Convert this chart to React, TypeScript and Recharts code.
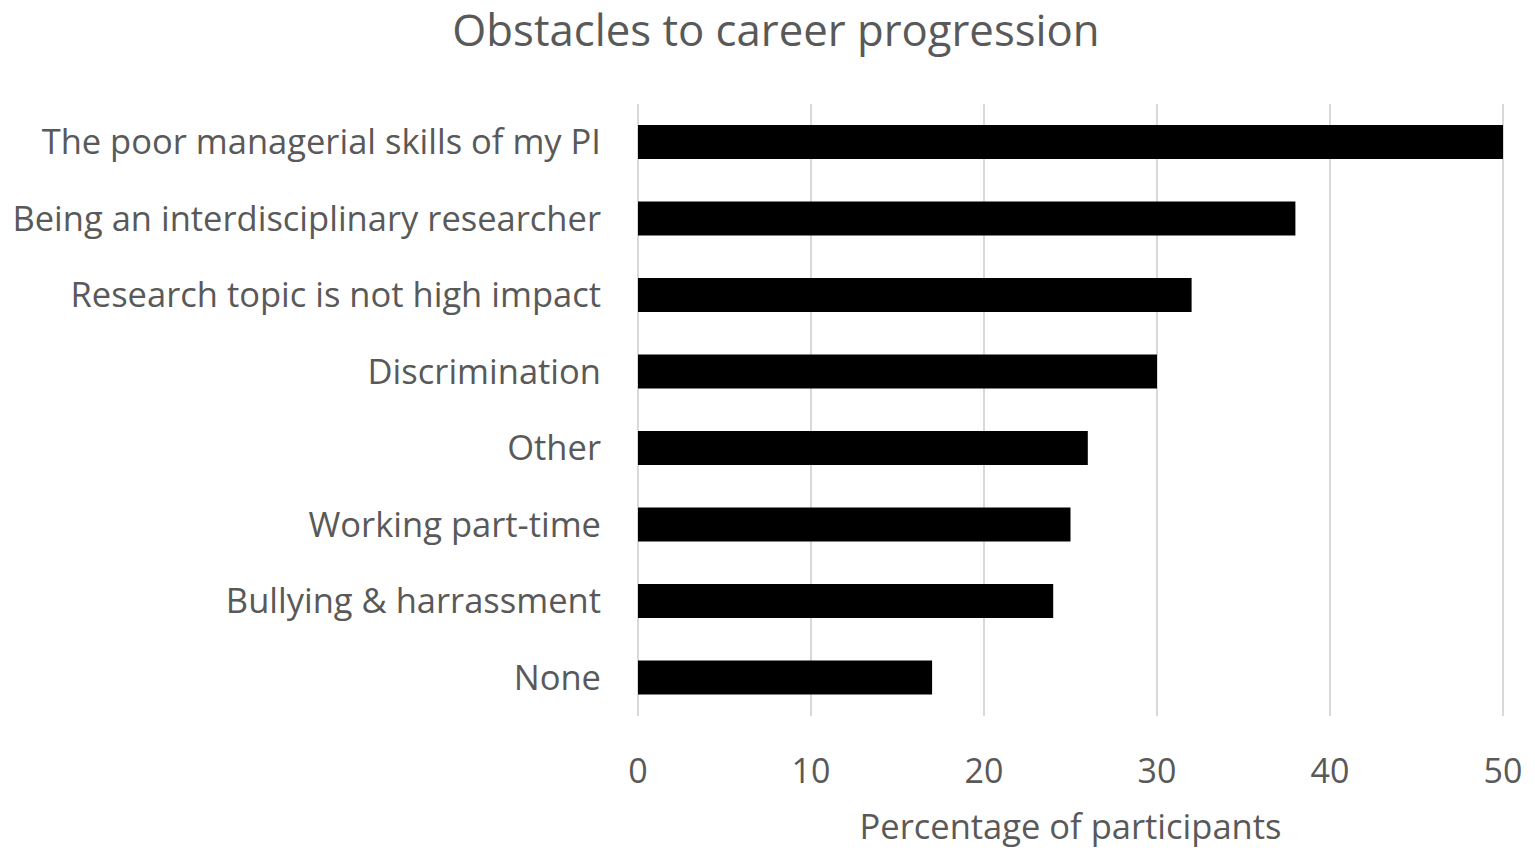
import { BarChart, Bar, XAxis, YAxis, CartesianGrid } from 'recharts';

const categories = [
  'The poor managerial skills of my PI',
  'Being an interdisciplinary researcher',
  'Research topic is not high impact',
  'Discrimination',
  'Other',
  'Working part-time',
  'Bullying & harrassment',
  'None',
];

const percentages = [50, 38, 32, 30, 26, 25, 24, 17];

const xTicks = [0, 10, 20, 30, 40, 50];

const data = categories.map((name, i) => ({ name, value: percentages[i] }));

const FONT = '"Open Sans", "Noto Sans", sans-serif';
const TEXT = '#595959';

export default function App() {
  return (
    <div style={{ position: 'absolute', left: 0, top: 0, width: 1535, height: 861, background: '#fff', fontFamily: FONT }}>
      <div
        style={{
          position: 'absolute',
          top: -1,
          left: 0,
          width: 1552,
          textAlign: 'center',
          fontSize: 43.7,
          color: TEXT,
          whiteSpace: 'nowrap',
        }}
      >
        Obstacles to career progression
      </div>
      <BarChart
        width={1535}
        height={861}
        data={data}
        layout="vertical"
        margin={{ top: 104, right: 32, left: 0, bottom: 85 }}
        barSize={34}
      >
        <CartesianGrid horizontal={false} stroke="#d9d9d9" strokeWidth={2} />
        <XAxis
          type="number"
          domain={[0, 50]}
          ticks={xTicks}
          height={60}
          axisLine={false}
          tickLine={false}
          tickMargin={37}
          tick={{ fill: TEXT, fontSize: 34, fontFamily: FONT }}
          interval={0}
        />
        <YAxis
          type="category"
          dataKey="name"
          width={638}
          axisLine={false}
          tickLine={false}
          tickMargin={31}
          tick={{ fill: TEXT, fontSize: 34.5, fontFamily: FONT }}
          interval={0}
        />
        <Bar dataKey="value" fill="#000000" isAnimationActive={false} />
      </BarChart>
      <div
        style={{
          position: 'absolute',
          top: 802,
          left: 638,
          width: 865,
          textAlign: 'center',
          fontSize: 34.5,
          color: TEXT,
          whiteSpace: 'nowrap',
        }}
      >
        Percentage of participants
      </div>
    </div>
  );
}
